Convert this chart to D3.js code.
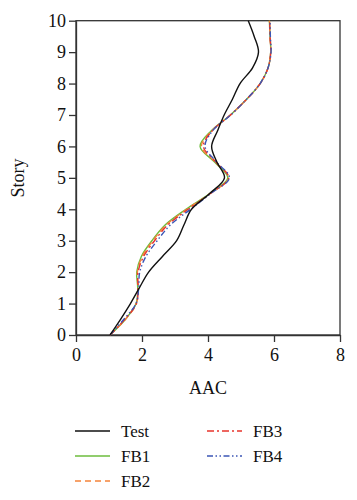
<!DOCTYPE html>
<html><head><meta charset="utf-8">
<script src="https://cdn.jsdelivr.net/npm/d3@7/dist/d3.min.js"></script>
<style>body{margin:0;background:#fff}svg{display:block}text{font-family:"Liberation Serif","DejaVu Serif",serif;fill:#111}</style>
</head><body>
<script>
const stories = [0,0.5,1,1.5,2,2.5,3,3.5,4,4.5,5,5.5,6,6.5,7,7.5,8,8.5,9,9.5,10];
const testVals = [1.03,1.35,1.65,1.92,2.2,2.62,3.05,3.27,3.5,4.05,4.5,4.27,4.11,4.29,4.49,4.74,4.97,5.35,5.53,5.4,5.22];
const fb1Vals  = [1.03,1.5,1.82,1.87,1.84,1.98,2.3,2.7,3.33,4.05,4.6,4.2,3.76,4.1,4.68,5.17,5.58,5.82,5.9,5.88,5.86];
const fb2Vals  = [1.03,1.5,1.83,1.88,1.86,2.01,2.33,2.73,3.36,4.06,4.62,4.22,3.8,4.12,4.68,5.17,5.58,5.82,5.9,5.88,5.86];
const fb3Vals  = [1.03,1.48,1.83,1.88,1.88,2.05,2.38,2.78,3.4,4.07,4.63,4.24,3.86,4.13,4.68,5.17,5.58,5.82,5.9,5.88,5.87];
const fb4Vals  = [1.03,1.45,1.82,1.9,1.93,2.12,2.46,2.86,3.47,4.08,4.65,4.26,3.91,4.14,4.69,5.17,5.58,5.82,5.91,5.89,5.88];
const seriesNames = ["Test","FB1","FB2","FB3","FB4"];
const xTicks = [0,2,4,6,8];
const yTicks = [0,1,2,3,4,5,6,7,8,9,10];

const W=357,H=500;
const svg=d3.select("body").append("svg").attr("width",W).attr("height",H);
const x=d3.scaleLinear().domain([0,8]).range([76,340]);
const y=d3.scaleLinear().domain([0,10]).range([335,20.7]);

const styles=[
 {c:"#111111",d:null},
 {c:"#6cbd3c",d:null},
 {c:"#f5843a",d:"6,4"},
 {c:"#e8342c",d:"7,3,2,3"},
 {c:"#3b55b5",d:"6,2.5,1.5,2.5,1.5,2.5"}
];
const allVals=[testVals,fb1Vals,fb2Vals,fb3Vals,fb4Vals];

// frame
svg.append("rect").attr("x",x(0)).attr("y",y(10)).attr("width",x(8)-x(0)).attr("height",y(0)-y(10))
 .attr("fill","none").attr("stroke","#333").attr("stroke-width",1.3);

const xa=svg.append("g").attr("transform",`translate(0,${y(0)})`).call(d3.axisBottom(x).tickValues(xTicks).tickSize(7).tickSizeOuter(0));
const ya=svg.append("g").attr("transform",`translate(${x(0)},0)`).call(d3.axisLeft(y).tickValues(yTicks).tickSize(7).tickSizeOuter(0));
[xa,ya].forEach(a=>{
 a.attr("font-family","Liberation Serif").attr("font-size",18);
 a.select(".domain").attr("stroke","#333").attr("stroke-width",1.3);
 a.selectAll(".tick line").attr("stroke","#333").attr("stroke-width",1.3);
 a.selectAll(".tick text").attr("font-family","Liberation Serif").attr("font-size",18).attr("fill","#111");});
xa.selectAll(".tick text").attr("dy","0.9em");
ya.selectAll(".tick text").attr("x",-10);

svg.append("text").attr("x",208).attr("y",394).attr("text-anchor","middle").style("font-size","18px").text("AAC");
svg.append("text").attr("transform","translate(24,178) rotate(-90)").attr("text-anchor","middle").style("font-size","18px").text("Story");

const line=d3.line().x(d=>x(d[0])).y(d=>y(d[1])).curve(d3.curveCatmullRom.alpha(0.5));
[1,2,3,4,0].forEach(i=>{
 const pts=stories.map((s,k)=>[allVals[i][k],s]);
 svg.append("path").attr("d",line(pts)).attr("fill","none").attr("stroke",styles[i].c)
  .attr("stroke-width",1.4).attr("stroke-dasharray",styles[i].d);
});

// legend
const legPos=[[75,431],[75,456],[75,481],[207,431],[207,456]];
seriesNames.forEach((n,i)=>{
 const [lx,ly]=legPos[i];
 svg.append("line").attr("x1",lx).attr("x2",lx+35).attr("y1",ly).attr("y2",ly).attr("stroke",styles[i].c)
  .attr("stroke-width",1.4).attr("stroke-dasharray",styles[i].d);
 svg.append("text").attr("x",lx+46).attr("y",ly+6).style("font-size","17px").text(n);
});
</script>
</body></html>
